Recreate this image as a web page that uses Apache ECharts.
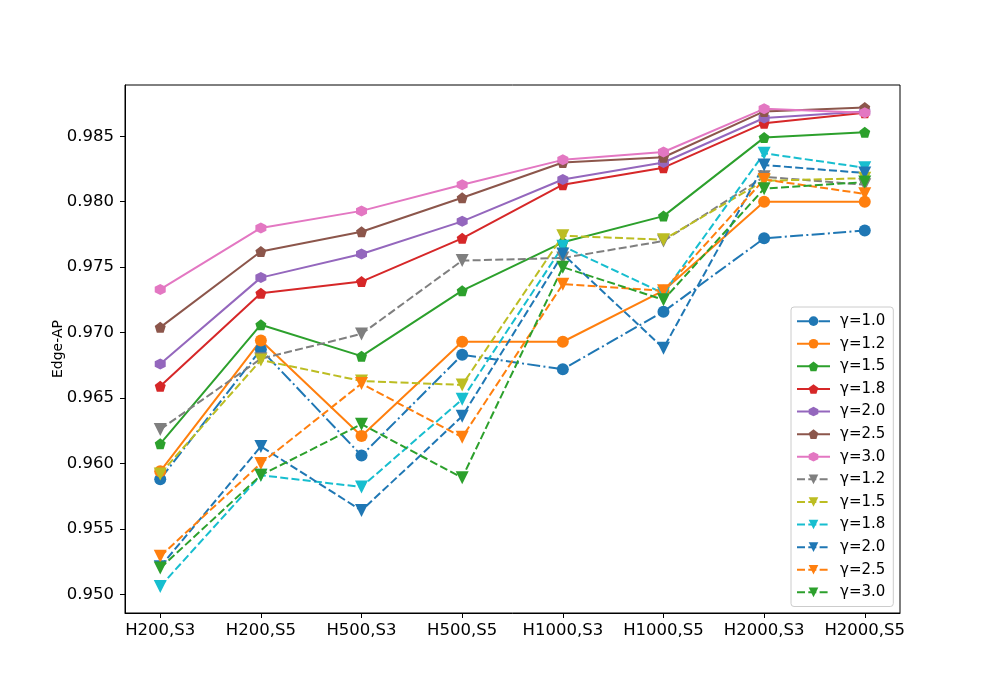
<!DOCTYPE html>
<html>
<head>
<meta charset="utf-8">
<script src="https://cdn.jsdelivr.net/npm/echarts@6/dist/echarts.min.js"></script>
<style>
  html, body { margin: 0; padding: 0; background: #fff; }
  #main { width: 1000px; height: 700px; }
</style>
</head>
<body>
<div id="main"></div>
<script>
// categories on the x axis
var categories = ['H200,S3', 'H200,S5', 'H500,S3', 'H500,S5', 'H1000,S3', 'H1000,S5', 'H2000,S3', 'H2000,S5'];
var yTicks = [0.950, 0.955, 0.960, 0.965, 0.970, 0.975, 0.980, 0.985];

// solid lines (circles / pentagons)
var g10 = [0.9588, 0.9687, 0.9606, 0.9683, 0.9672, 0.9716, 0.9772, 0.9778];
var g12 = [0.9594, 0.9694, 0.9621, 0.9693, 0.9693, 0.9732, 0.9800, 0.9800];
var g15 = [0.9615, 0.9706, 0.9682, 0.9732, 0.9769, 0.9789, 0.9849, 0.9853];
var g18 = [0.9659, 0.9730, 0.9739, 0.9772, 0.9813, 0.9826, 0.9860, 0.9868];
var g20 = [0.9676, 0.9742, 0.9760, 0.9785, 0.9817, 0.9830, 0.9864, 0.9869];
var g25 = [0.9704, 0.9762, 0.9777, 0.9803, 0.9830, 0.9834, 0.9869, 0.9872];
var g30 = [0.9733, 0.9780, 0.9793, 0.9813, 0.9832, 0.9838, 0.9871, 0.9868];

// dashed lines (down triangles)
var d12 = [0.9626, 0.9680, 0.9699, 0.9755, 0.9757, 0.9770, 0.9819, 0.9813];
var d15 = [0.9592, 0.9679, 0.9663, 0.9660, 0.9774, 0.9771, 0.9816, 0.9818];
var d18 = [0.9506, 0.9591, 0.9582, 0.9649, 0.9766, 0.9730, 0.9837, 0.9826];
var d20 = [0.9521, 0.9613, 0.9564, 0.9636, 0.9760, 0.9688, 0.9828, 0.9822];
var d25 = [0.9529, 0.9600, 0.9661, 0.9620, 0.9737, 0.9732, 0.9817, 0.9806];
var d30 = [0.9520, 0.9591, 0.9630, 0.9589, 0.9750, 0.9725, 0.9810, 0.9815];

var PENT = 'path://M0,-1 L0.951,-0.309 L0.588,0.809 L-0.588,0.809 L-0.951,-0.309 Z';
var HEX = 'path://M0,-1 L0.866,-0.5 L0.866,0.5 L0,1 L-0.866,0.5 L-0.866,-0.5 Z';
var DASH = [8, 3.3];
var DASHDOT = [13, 3.3, 2, 3.3];

// name, values, color, symbol, line type
// the second group gets a zero-width space so legend entries stay separate
var defs = [
    ['γ=1.0', g10, '#1f77b4', 'circle', DASHDOT],
    ['γ=1.2', g12, '#ff7f0e', 'circle', 'solid'],
    ['γ=1.5', g15, '#2ca02c', PENT, 'solid'],
    ['γ=1.8', g18, '#d62728', PENT, 'solid'],
    ['γ=2.0', g20, '#9467bd', HEX, 'solid'],
    ['γ=2.5', g25, '#8c564b', PENT, 'solid'],
    ['γ=3.0', g30, '#e377c2', HEX, 'solid'],
    ['γ=1.2\u200b', d12, '#7f7f7f', 'triangle', DASH],
    ['γ=1.5\u200b', d15, '#bcbd22', 'triangle', DASH],
    ['γ=1.8\u200b', d18, '#17becf', 'triangle', DASH],
    ['γ=2.0\u200b', d20, '#1f77b4', 'triangle', DASH],
    ['γ=2.5\u200b', d25, '#ff7f0e', 'triangle', DASH],
    ['γ=3.0\u200b', d30, '#2ca02c', 'triangle', DASH]
];

var series = defs.map(function (d) {
    var tri = d[3] === 'triangle';
    return {
        name: d[0],
        type: 'line',
        data: d[1].map(function (v, i) { return [i, v]; }),
        symbol: d[3],
        symbolSize: tri ? 13 : (d[3] === 'circle' ? 12 : 11),
        symbolRotate: tri ? 180 : 0,
        color: d[2],
        lineStyle: { width: 2, type: d[4], color: d[2] },
        itemStyle: { color: d[2] },
        emphasis: { disabled: true },
        animation: false
    };
});

var myChart = echarts.init(document.getElementById('main'));
myChart.setOption({
    backgroundColor: '#fff',
    textStyle: { fontFamily: 'DejaVu Sans' },
    grid: {
        left: 125, right: 100, top: 85, bottom: 87,
        show: true, borderColor: '#000', borderWidth: 1
    },
    legend: {
        orient: 'vertical',
        left: 791, top: 307,
        data: defs.map(function (d) { return d[0]; }),
        itemWidth: 33, itemHeight: 12, itemGap: 7.3,
        padding: [6.5, 8, 6.5, 5],
        backgroundColor: 'rgba(255,255,255,0.8)',
        borderColor: '#cccccc', borderWidth: 1, borderRadius: 3,
        textStyle: { fontSize: 15, color: '#000', fontFamily: 'DejaVu Sans', lineHeight: 15.3, padding: [0, 0, 0, 5] }
    },
    xAxis: {
        type: 'value',
        min: -0.35, max: 7.35,
        axisLine: { show: true, onZero: false, lineStyle: { color: '#000' } },
        axisTick: { show: true, length: 5, customValues: [0, 1, 2, 3, 4, 5, 6, 7], lineStyle: { color: '#000' } },
        axisLabel: {
            customValues: [0, 1, 2, 3, 4, 5, 6, 7],
            formatter: function (v) { return categories[Math.round(v)]; },
            fontSize: 16.5, color: '#000', margin: 9
        },
        splitLine: { show: false }
    },
    yAxis: {
        type: 'value',
        min: 0.94857, max: 0.98892,
        name: 'Edge-AP',
        nameLocation: 'middle',
        nameGap: 60,
        nameMoveOverlap: false,
        nameTextStyle: { fontSize: 14, color: '#000' },
        axisLine: { show: true, onZero: false, lineStyle: { color: '#000' } },
        axisTick: { show: true, length: 5, customValues: yTicks, lineStyle: { color: '#000' } },
        axisLabel: {
            customValues: yTicks,
            formatter: function (v) { return v.toFixed(3); },
            fontSize: 16.5, color: '#000', margin: 11
        },
        splitLine: { show: false }
    },
    series: series
});
</script>
</body>
</html>
